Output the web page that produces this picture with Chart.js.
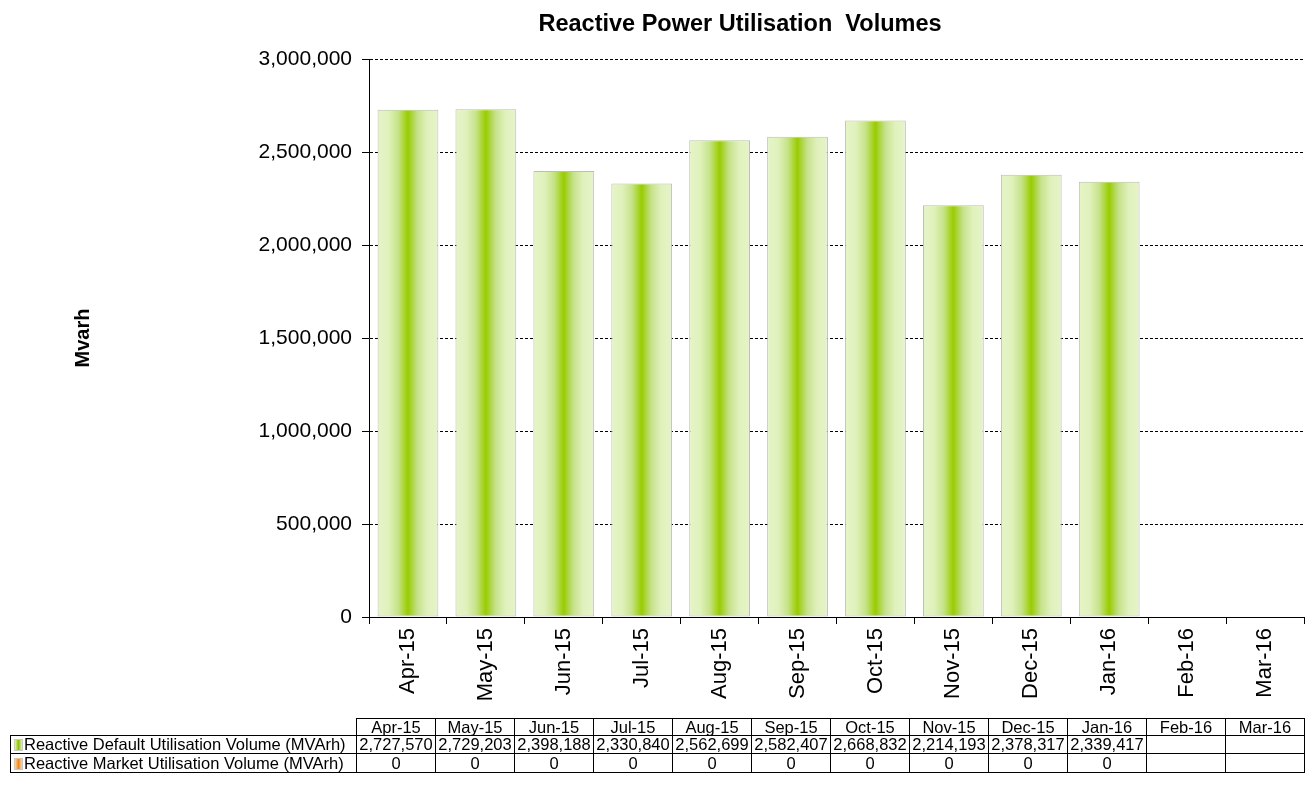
<!DOCTYPE html>
<html>
<head>
<meta charset="utf-8">
<script src="https://cdn.jsdelivr.net/npm/chart.js@4.4.1/dist/chart.umd.min.js"></script>
<style>
  html, body { margin: 0; padding: 0; background: #fff; }
  #wrap { position: relative; width: 1312px; height: 789px; overflow: hidden; }
  #chart { position: absolute; left: 0; top: 0; }
  #tbl { position: absolute; left: 10px; top: 718px; border-collapse: collapse; table-layout: fixed;
         font-family: "Liberation Sans", Arial, sans-serif; font-size: 16.5px; color: #000; }
  #tbl td { border: 1px solid #000; padding: 0; text-align: center; white-space: nowrap; overflow: hidden; line-height: 15px; }
  #tbl td.blank { border: none; }
  #tbl td.lab { text-align: left; padding-left: 3px; }
  .key { display: inline-block; width: 7px; height: 10px; margin-right: 1px; vertical-align: -1px; border: 1px solid #c8c8c8; }
  .k0 { background: linear-gradient(to right, #e2f2bc, #8fc400, #e2f2bc); }
  .k1 { background: linear-gradient(to right, #fbd9a8, #f08a20, #fbd9a8); }
</style>
</head>
<body>
<div id="wrap">
  <canvas id="chart" width="1312" height="789"></canvas>
  <table id="tbl"></table>
</div>
<script>
// ---- data ----
const chartTitle = 'Reactive Power Utilisation  Volumes';
const yAxisTitle = 'Mvarh';
const categories = ['Apr-15', 'May-15', 'Jun-15', 'Jul-15', 'Aug-15', 'Sep-15', 'Oct-15', 'Nov-15', 'Dec-15', 'Jan-16', 'Feb-16', 'Mar-16'];
const seriesNames = ['Reactive Default Utilisation Volume (MVArh)', 'Reactive Market Utilisation Volume (MVArh)'];
const defaultVolumes = [2727570, 2729203, 2398188, 2330840, 2562699, 2582407, 2668832, 2214193, 2378317, 2339417, null, null];
const marketVolumes = [0, 0, 0, 0, 0, 0, 0, 0, 0, 0, null, null];
const yTickValues = [0, 500000, 1000000, 1500000, 2000000, 2500000, 3000000];

// ---- helpers ----
function fmt(v) {
  if (v === null || v === undefined) return '';
  return String(Math.round(v)).replace(/\B(?=(\d{3})+(?!\d))/g, ',');
}
const FONT = '"Liberation Sans", Arial, sans-serif';
const BAR_FRACTION = 0.78;

function barGradient(ctx) {
  const chart = ctx.chart;
  const xs = chart.scales && chart.scales.x;
  if (!xs || ctx.dataIndex === undefined || !isFinite(xs.width) || xs.width <= 0) return '#99cc00';
  const cx = xs.getPixelForValue(ctx.dataIndex);
  const half = (xs.width / categories.length) * BAR_FRACTION / 2;
  const g = chart.ctx.createLinearGradient(cx - half, 0, cx + half, 0);
  g.addColorStop(0, '#e6f4c8');
  g.addColorStop(0.18, '#e0f1bc');
  g.addColorStop(0.34, '#c6e28a');
  g.addColorStop(0.5, '#99cc00');
  g.addColorStop(0.66, '#c6e28a');
  g.addColorStop(0.82, '#e0f1bc');
  g.addColorStop(1, '#e6f4c8');
  return g;
}

const titlePlugin = {
  id: 'centeredTitle',
  afterDraw(chart) {
    const c = chart.ctx;
    c.save();
    c.font = 'bold 23.5px ' + FONT;
    c.fillStyle = '#000';
    c.textAlign = 'center';
    c.textBaseline = 'middle';
    c.fillText(chartTitle, 740, 25);
    c.restore();
  }
};

new Chart(document.getElementById('chart'), {
  type: 'bar',
  data: {
    labels: categories,
    datasets: [
      {
        label: seriesNames[0],
        data: defaultVolumes,
        backgroundColor: barGradient,
        borderColor: '#bcbcbc',
        borderWidth: 1,
        borderSkipped: false,
        barPercentage: BAR_FRACTION,
        categoryPercentage: 1.0
      },
      {
        label: seriesNames[1],
        data: marketVolumes,
        backgroundColor: '#f5a040',
        borderWidth: 0,
        barPercentage: BAR_FRACTION,
        categoryPercentage: 1.0
      }
    ]
  },
  options: {
    responsive: false,
    devicePixelRatio: 1,
    animation: false,
    layout: { padding: { left: 0, right: 8, top: 59, bottom: 82 } },
    plugins: {
      legend: { display: false },
      tooltip: { enabled: false },
      title: { display: false }
    },
    scales: {
      x: {
        stacked: true,
        grid: { display: true, drawOnChartArea: false, drawTicks: true, offset: true, tickLength: 7, color: '#000', tickColor: '#000' },
        border: { display: true, color: '#000', width: 1 },
        ticks: { minRotation: 90, maxRotation: 90, autoSkip: false, padding: 4, color: '#000', font: { family: FONT, size: 22 } },
        afterFit(s) { s.height = 90; }
      },
      y: {
        stacked: true,
        min: 0,
        max: 3000000,
        afterBuildTicks(s) { s.ticks = yTickValues.map(v => ({ value: v })); },
        ticks: { padding: 10, color: '#000', font: { family: FONT, size: 21 }, callback: v => fmt(v) },
        grid: { color: '#000', lineWidth: 1, tickLength: 7, tickColor: '#000', tickBorderDash: [] },
        border: { display: true, color: '#000', width: 1, dash: [3, 2] },
        title: { display: true, text: yAxisTitle, color: '#000', font: { family: FONT, size: 20, weight: 'bold' }, padding: { top: 71, bottom: 0 } },
        afterFit(s) { s.width = 369; }
      }
    }
  },
  plugins: [titlePlugin]
});

// ---- data table ----
(function buildTable() {
  const t = document.getElementById('tbl');
  const labelW = 346, colW = 79;
  let html = '<colgroup><col style="width:' + labelW + 'px">';
  categories.forEach(() => { html += '<col style="width:' + colW + 'px">'; });
  html += '</colgroup>';
  html += '<tr style="height:17px"><td class="blank"></td>' + categories.map(c => '<td>' + c + '</td>').join('') + '</tr>';
  const rows = [defaultVolumes, marketVolumes];
  const heights = [18, 19];
  rows.forEach((vals, i) => {
    html += '<tr style="height:' + heights[i] + 'px"><td class="lab"><span class="key k' + i + '"></span>' + seriesNames[i] + '</td>' +
      vals.map(v => '<td>' + fmt(v) + '</td>').join('') + '</tr>';
  });
  t.innerHTML = html;
  t.style.width = (labelW + colW * categories.length) + 'px';
})();
</script>
</body>
</html>
